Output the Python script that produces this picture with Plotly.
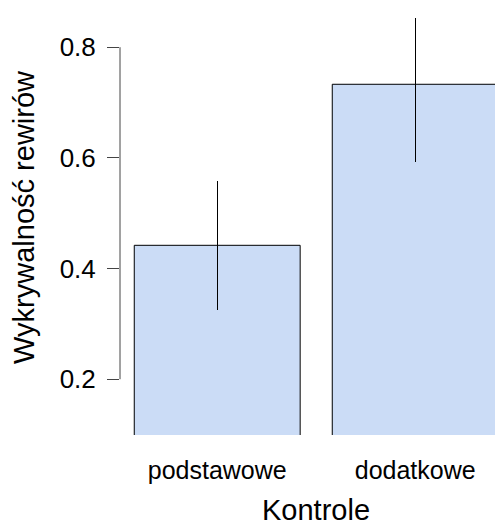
import plotly.graph_objects as go

# Detection rate by control type, with interval bounds
categories = ["podstawowe", "dodatkowe"]
means = [0.442, 0.733]
lower = [0.326, 0.593]
upper = [0.559, 0.853]

y_ticks = [0.2, 0.4, 0.6, 0.8]
y_ticktext = ["0.2", "0.4", "0.6", "0.8"]

FONT = "Liberation Sans, Arial, sans-serif"
AXIS_COL = "#444444"
BAR_W = 0.838
X_RANGE = [-0.491, 1.403]
Y_RANGE = [0.0992, 0.8853]

positions = list(range(len(categories)))
err_plus = [u - m for u, m in zip(upper, means)]
err_minus = [m - l for m, l in zip(means, lower)]

fig = go.Figure()

# filled bars with error bars (no cap)
fig.add_trace(
    go.Bar(
        x=positions,
        y=means,
        width=BAR_W,
        marker=dict(color="#CBDCF6", line=dict(width=0)),
        error_y=dict(
            type="data",
            symmetric=False,
            array=err_plus,
            arrayminus=err_minus,
            width=0,
            thickness=1,
            color="black",
        ),
        hoverinfo="skip",
    )
)

# bar outlines, cut at the right end of the x range (a bar running past
# the plot edge shows no right-hand border)
ox, oy = [], []
for p, m in zip(positions, means):
    x0, x1 = p - BAR_W / 2, p + BAR_W / 2
    if x1 <= X_RANGE[1]:
        ox += [x0, x0, x1, x1, None]
        oy += [0, m, m, 0, None]
    else:
        ox += [x0, x0, X_RANGE[1] + 0.05, None]
        oy += [0, m, m, None]
fig.add_trace(
    go.Scatter(
        x=ox,
        y=oy,
        mode="lines",
        line=dict(color="black", width=1),
        hoverinfo="skip",
    )
)

fig.update_layout(
    width=495,
    height=525,
    margin=dict(l=120, r=0, t=0, b=90),
    plot_bgcolor="white",
    paper_bgcolor="white",
    showlegend=False,
    font=dict(family=FONT, color="black"),
    bargap=0,
)

fig.update_xaxes(
    range=X_RANGE,
    tickvals=positions,
    ticktext=categories,
    showline=False,
    showgrid=False,
    zeroline=False,
    ticks="",
    tickfont=dict(size=25, family=FONT, color="black"),
    ticklabelstandoff=18,
)

fig.update_yaxes(
    range=Y_RANGE,
    tickvals=y_ticks,
    ticktext=y_ticktext,
    showline=False,
    showgrid=False,
    zeroline=False,
    ticks="outside",
    ticklen=12,
    tickwidth=1,
    tickcolor=AXIS_COL,
    tickfont=dict(size=26, family=FONT, color="black"),
    ticklabelstandoff=6,
    title=dict(
        text="Wykrywalność rewirów",
        font=dict(size=29, family=FONT, color="black"),
        standoff=16,
    ),
)

# x axis title, centred between the two groups
fig.add_annotation(
    text="Kontrole",
    x=sum(positions) / len(positions),
    xref="x",
    y=0,
    yref="paper",
    xanchor="center",
    yanchor="top",
    yshift=-57,
    showarrow=False,
    font=dict(size=29, family=FONT, color="black"),
)

# y axis line spans only the tick range
fig.add_shape(
    type="line",
    xref="paper",
    yref="y",
    x0=0,
    x1=0,
    y0=y_ticks[0],
    y1=y_ticks[-1],
    line=dict(color=AXIS_COL, width=1),
)

fig.write_html("out.html")
